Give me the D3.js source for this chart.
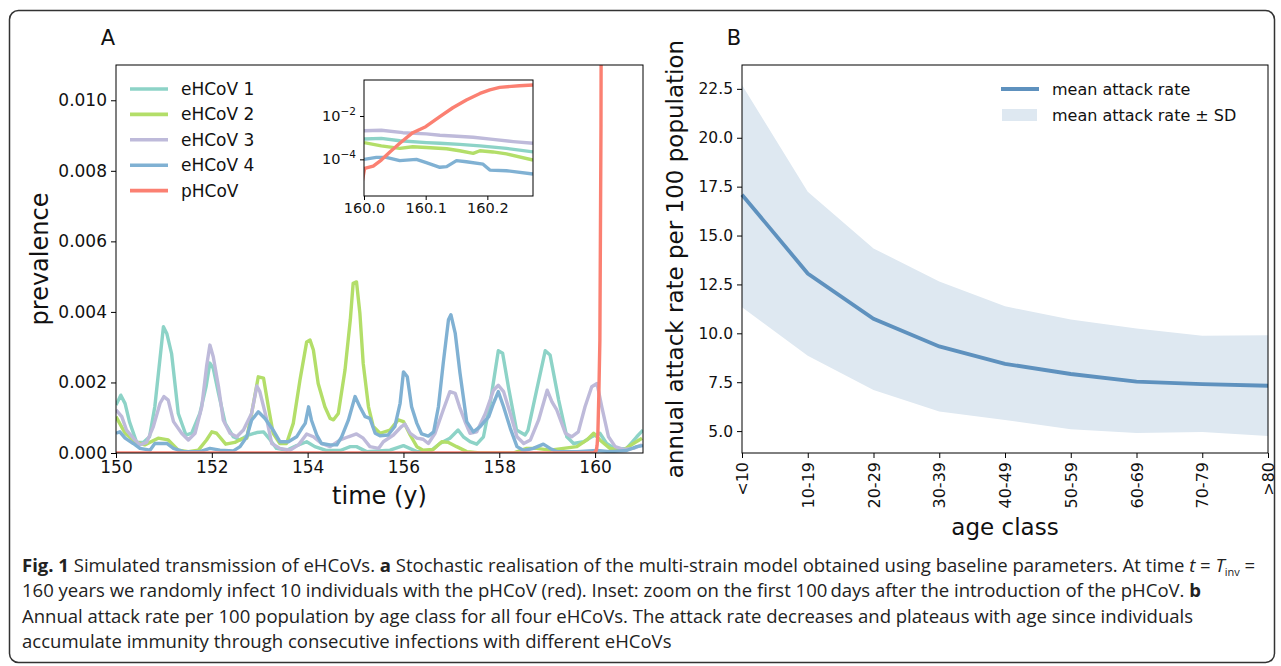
<!DOCTYPE html>
<html>
<head>
<meta charset="utf-8">
<script src="https://cdn.jsdelivr.net/npm/d3@7"></script>
<style>
  body { margin: 0; background: #fff; }
  svg text { font-family: "DejaVu Sans", sans-serif; fill: #111; }
  .cap text { font-family: "Open Sans", sans-serif; fill: #222; }
</style>
</head>
<body>
<svg id="fig" width="1281" height="666"></svg>
<script>
// ---------- panel A data : [time (y), prevalence x 1e-3] ----------
const MILLI = 1e-3
const ehcov1 = [[150.0,1.36],[150.1,1.64],[150.19,1.4],[150.28,0.89],[150.43,0.3],[150.57,0.3],[150.7,0.46],[150.81,1.31],[150.99,3.58],[151.06,3.39],[151.16,2.82],[151.3,1.12],[151.46,0.51],[151.58,0.56],[151.75,1.12],[151.88,1.88],[151.96,2.55],[152.03,2.4],[152.14,1.69],[152.28,0.84],[152.45,0.46],[152.59,0.37],[152.76,0.51],[152.94,0.58],[153.08,0.6],[153.22,0.37],[153.35,0.13],[153.56,0.08],[153.77,0.21],[153.98,0.32],[154.15,0.18],[154.4,0.07],[154.68,0.07],[154.89,0.18],[155.02,0.18],[155.23,0.04],[155.72,0.08],[156.0,0.21],[156.28,0.04],[156.55,0.04],[156.76,0.27],[156.97,0.42],[157.14,0.65],[157.25,0.46],[157.39,0.32],[157.53,0.25],[157.67,0.46],[157.81,1.41],[157.98,2.9],[158.07,2.83],[158.19,1.88],[158.36,0.65],[158.54,0.51],[158.6,0.65],[158.78,1.78],[158.96,2.9],[159.06,2.78],[159.24,1.5],[159.41,0.46],[159.55,0.27],[159.76,0.32],[159.93,0.46],[160.1,0.56],[160.24,0.27],[160.42,0.12],[160.66,0.13],[160.87,0.46],[161.0,0.65]]
const ehcov2 = [[150.0,1.03],[150.19,0.56],[150.4,0.32],[150.6,0.23],[150.88,0.42],[151.09,0.37],[151.3,0.08],[151.51,0.04],[151.72,0.08],[151.89,0.37],[152.0,0.6],[152.1,0.56],[152.29,0.25],[152.48,0.3],[152.62,0.4],[152.73,0.42],[152.83,1.12],[152.97,2.16],[153.08,2.12],[153.18,1.31],[153.28,0.56],[153.42,0.27],[153.56,0.27],[153.7,0.84],[153.84,2.07],[153.98,3.15],[154.05,3.2],[154.12,2.92],[154.22,1.97],[154.36,1.31],[154.47,0.98],[154.54,0.94],[154.64,1.12],[154.78,2.35],[154.89,3.77],[154.95,4.81],[155.02,4.85],[155.09,3.97],[155.16,2.54],[155.27,1.31],[155.37,0.75],[155.51,0.56],[155.72,0.65],[155.89,0.94],[156.0,0.89],[156.14,0.51],[156.28,0.18],[156.41,0.08],[156.62,0.1],[156.8,0.32],[156.94,0.3],[157.11,0.18],[157.32,0.04],[157.6,0.0],[158.29,0.0],[158.57,0.13],[158.78,0.13],[159.06,0.08],[159.34,0.13],[159.62,0.18],[159.83,0.37],[159.97,0.56],[160.1,0.37],[160.31,0.13],[160.59,0.08],[160.8,0.27],[160.98,0.42]]
const ehcov3 = [[150.0,1.22],[150.12,1.03],[150.22,0.65],[150.36,0.42],[150.5,0.23],[150.64,0.3],[150.78,0.75],[150.92,1.41],[151.0,1.6],[151.09,1.5],[151.2,0.89],[151.37,0.56],[151.51,0.37],[151.65,0.56],[151.79,1.31],[151.89,2.45],[151.96,3.06],[152.03,2.73],[152.14,1.88],[152.24,0.93],[152.38,0.56],[152.52,0.46],[152.66,0.65],[152.83,1.12],[152.94,1.9],[153.0,1.75],[153.15,0.93],[153.25,0.27],[153.42,0.13],[153.63,0.08],[153.81,0.23],[153.98,0.54],[154.12,0.46],[154.29,0.27],[154.47,0.18],[154.68,0.37],[154.85,0.46],[155.02,0.54],[155.16,0.42],[155.3,0.18],[155.48,0.13],[155.58,0.32],[155.79,0.51],[155.96,0.75],[156.03,0.82],[156.14,0.56],[156.28,0.42],[156.41,0.39],[156.52,0.27],[156.66,0.56],[156.83,1.22],[156.97,1.74],[157.08,1.69],[157.17,1.31],[157.3,0.84],[157.39,0.56],[157.53,0.6],[157.71,1.12],[157.88,1.78],[157.98,1.92],[158.09,1.74],[158.23,1.12],[158.37,0.46],[158.51,0.27],[158.65,0.37],[158.82,0.93],[159.0,1.78],[159.1,1.45],[159.2,1.22],[159.38,0.56],[159.51,0.46],[159.65,0.6],[159.79,1.31],[159.93,1.88],[160.04,1.97],[160.14,1.31],[160.28,0.46],[160.42,0.18],[160.59,0.1],[160.8,0.13],[160.98,0.23]]
const ehcov4 = [[150.0,0.56],[150.08,0.6],[150.19,0.42],[150.36,0.27],[150.5,0.13],[150.71,0.08],[150.81,0.27],[151.06,0.27],[151.2,0.13],[151.41,0.04],[151.75,0.04],[151.96,0.13],[152.17,0.08],[152.45,0.06],[152.59,0.18],[152.73,0.46],[152.83,0.93],[152.97,1.17],[153.11,0.98],[153.28,0.65],[153.42,0.32],[153.6,0.32],[153.77,0.46],[153.88,0.7],[153.95,0.84],[154.02,1.31],[154.08,0.93],[154.19,0.51],[154.29,0.27],[154.47,0.23],[154.61,0.23],[154.71,0.46],[154.85,0.93],[154.99,1.6],[155.09,1.31],[155.2,1.03],[155.3,0.98],[155.41,0.56],[155.51,0.49],[155.68,0.51],[155.82,0.75],[155.93,1.41],[156.0,2.3],[156.08,2.16],[156.17,1.31],[156.28,0.84],[156.38,0.54],[156.52,0.48],[156.63,0.6],[156.73,1.31],[156.83,2.54],[156.94,3.78],[156.99,3.92],[157.08,3.4],[157.18,2.27],[157.32,0.89],[157.46,0.6],[157.6,0.75],[157.78,1.03],[157.88,1.41],[157.98,1.74],[158.09,1.31],[158.23,0.7],[158.37,0.18],[158.51,0.07],[158.71,0.13],[158.92,0.25],[159.06,0.13],[159.2,0.04],[159.62,0.04],[160.04,0.07],[160.31,0.04],[160.66,0.07],[160.87,0.18],[161.0,0.21]]
// pHCoV in plain prevalence (used in main panel and inset)
const phcov = [[150,0],[159.99,0],[160.001,3.8e-5],[160.015,4.9e-5],[160.028,9.3e-5],[160.042,2.2e-4],[160.058,5.5e-4],[160.079,1.7e-3],[160.1,3.2e-3],[160.123,9.3e-3],[160.144,0.024],[160.166,0.055],[160.188,0.11],[160.204,0.16],[160.22,0.21],[160.252,0.25],[160.274,0.27]]

// inset: first 100 days after introduction (plain prevalence)
const inset1 = [[160.0,8.7e-4],[160.028,9.3e-4],[160.058,7.2e-4],[160.101,5.9e-4],[160.123,5.5e-4],[160.155,4.9e-4],[160.188,4.2e-4],[160.231,3.2e-4],[160.274,2.2e-4]]
const inset2 = [[160.0,5.9e-4],[160.028,4.2e-4],[160.058,3.2e-4],[160.079,3.8e-4],[160.101,3.5e-4],[160.134,3.1e-4],[160.155,2.5e-4],[160.177,1.9e-4],[160.188,2.5e-4],[160.209,2.2e-4],[160.231,1.8e-4],[160.274,9.3e-5]]
const inset3 = [[160.0,2.1e-3],[160.028,2.2e-3],[160.063,1.7e-3],[160.101,1.5e-3],[160.123,1.3e-3],[160.144,1.2e-3],[160.177,1.05e-3],[160.209,8.3e-4],[160.242,6.6e-4],[160.274,5.5e-4]]
const inset4 = [[160.0,1.0e-4],[160.02,1.23e-4],[160.036,1.23e-4],[160.058,8.7e-5],[160.085,1.0e-4],[160.101,7.1e-5],[160.123,4.3e-5],[160.134,4.6e-5],[160.15,8.7e-5],[160.166,7.8e-5],[160.193,6.0e-5],[160.204,3.2e-5],[160.231,3.0e-5],[160.274,2.1e-5]]

const seriesNames = ["eHCoV 1", "eHCoV 2", "eHCoV 3", "eHCoV 4", "pHCoV"]
const seriesColors = ["#8dd3c7", "#b3de69", "#bebada", "#80b1d3", "#fb8072"]
const timeTicks = [150, 152, 154, 156, 158, 160]
const prevTicks = [0, 0.002, 0.004, 0.006, 0.008, 0.010]
const insetTimeTicks = [160.0, 160.1, 160.2]
const insetLogTicks = [1e-2, 1e-4]

// ---------- panel B data ----------
const ageClasses = ["<10", "10-19", "20-29", "30-39", "40-49", "50-59", "60-69", "70-79", ">80"]
const meanRate = [17.09, 13.06, 10.74, 9.33, 8.44, 7.92, 7.53, 7.40, 7.32]
const upperRate = [22.70, 17.24, 14.34, 12.65, 11.38, 10.71, 10.25, 9.87, 9.90]
const lowerRate = [11.33, 8.85, 7.10, 6.00, 5.57, 5.10, 4.90, 4.95, 4.75]
const rateTicks = [5, 7.5, 10, 12.5, 15, 17.5, 20, 22.5]

const svg = d3.select('#fig')

// outer figure border
svg.append('rect')
  .attr('x', 9.5).attr('y', 10.5)
  .attr('width', 1265).attr('height', 652)
  .attr('rx', 9)
  .attr('fill', 'none').attr('stroke', '#333').attr('stroke-width', 1.5)

function styleAxis(g, size) {
  g.select('.domain').remove()
  g.selectAll('.tick line').attr('stroke', '#000').attr('stroke-width', 1)
  g.selectAll('.tick text').attr('font-size', size).attr('fill', '#111')
}

// ======================= PANEL A =======================
const padA = { left: 116, right: 643, top: 65, bottom: 453 }
const xA = d3.scaleLinear().domain([150, 161]).range([padA.left, padA.right])
const yA = d3.scaleLinear().domain([0, 0.011]).range([padA.bottom, padA.top])

const gA = svg.append('g')
gA.append('defs').append('clipPath').attr('id', 'clipA')
  .append('rect')
  .attr('x', padA.left).attr('y', padA.top)
  .attr('width', padA.right - padA.left).attr('height', padA.bottom - padA.top)

const lineA = d3.line().x(d => xA(d[0])).y(d => yA(d[1] * MILLI))
const lineP = d3.line().x(d => xA(d[0])).y(d => yA(d[1]))

const plotA = gA.append('g').attr('clip-path', 'url(#clipA)')
;[ehcov1, ehcov2, ehcov3, ehcov4].forEach((s, i) => {
  plotA.append('path').datum(s)
    .attr('d', lineA)
    .attr('fill', 'none')
    .attr('stroke', seriesColors[i])
    .attr('stroke-width', 3.4)
    .attr('stroke-linejoin', 'round')
})
plotA.append('path').datum(phcov)
  .attr('d', lineP)
  .attr('fill', 'none')
  .attr('stroke', seriesColors[4])
  .attr('stroke-width', 3.4)
  .attr('stroke-linejoin', 'round')

gA.append('g')
  .attr('transform', `translate(0, ${padA.bottom})`)
  .call(d3.axisBottom(xA).tickValues(timeTicks).tickFormat(d3.format('d')).tickSize(5).tickPadding(3))
  .call(g => styleAxis(g, 17))
gA.append('g')
  .attr('transform', `translate(${padA.left}, 0)`)
  .call(d3.axisLeft(yA).tickValues(prevTicks).tickFormat(d3.format('.3f')).tickSize(5).tickPadding(4))
  .call(g => styleAxis(g, 17))

gA.append('rect')
  .attr('x', padA.left).attr('y', padA.top)
  .attr('width', padA.right - padA.left).attr('height', padA.bottom - padA.top)
  .attr('fill', 'none').attr('stroke', '#000').attr('stroke-width', 1)

gA.append('text').attr('x', 108).attr('y', 38)
  .attr('text-anchor', 'middle').attr('dominant-baseline', 'central')
  .attr('font-size', 21).text('A')

gA.append('text')
  .attr('x', (padA.left + padA.right) / 2).attr('y', 504)
  .attr('text-anchor', 'middle').attr('font-size', 24).text('time (y)')
gA.append('text')
  .attr('transform', `translate(48, ${(padA.top + padA.bottom) / 2}) rotate(-90)`)
  .attr('text-anchor', 'middle').attr('font-size', 24).text('prevalence')

// legend A
const legA = gA.append('g').attr('transform', 'translate(130, 89)')
seriesNames.forEach((n, i) => {
  const row = legA.append('g').attr('transform', `translate(0, ${i * 25.4})`)
  row.append('line').attr('x1', 0).attr('x2', 38)
    .attr('stroke', seriesColors[i]).attr('stroke-width', 3.6)
  row.append('text').attr('x', 51).attr('dominant-baseline', 'central')
    .attr('font-size', 17).text(n)
})

// inset
const padI = { left: 364, right: 533, top: 80, bottom: 196 }
const xI = d3.scaleLinear().domain([160, 160.274]).range([padI.left, padI.right])
const yI = d3.scaleLog().domain([Math.pow(10, -5.69), Math.pow(10, -0.34)]).range([padI.bottom, padI.top])
const lineI = d3.line().x(d => xI(d[0])).y(d => yI(Math.max(d[1], yI.domain()[0] / 3)))

const gI = svg.append('g')
gI.append('rect')
  .attr('x', padI.left).attr('y', padI.top)
  .attr('width', padI.right - padI.left).attr('height', padI.bottom - padI.top)
  .attr('fill', '#fff')
gI.append('defs').append('clipPath').attr('id', 'clipI')
  .append('rect')
  .attr('x', padI.left).attr('y', padI.top)
  .attr('width', padI.right - padI.left).attr('height', padI.bottom - padI.top)
const plotI = gI.append('g').attr('clip-path', 'url(#clipI)')
;[inset1, inset2, inset3, inset4, phcov].forEach((s, i) => {
  plotI.append('path').datum(s)
    .attr('d', lineI)
    .attr('fill', 'none')
    .attr('stroke', seriesColors[i])
    .attr('stroke-width', 3.4)
    .attr('stroke-linejoin', 'round')
})
gI.append('g')
  .attr('transform', `translate(0, ${padI.bottom})`)
  .call(d3.axisBottom(xI).tickValues(insetTimeTicks).tickFormat(d3.format('.1f')).tickSize(4).tickPadding(3))
  .call(g => styleAxis(g, 14.5))
const yIax = gI.append('g')
  .attr('transform', `translate(${padI.left}, 0)`)
  .call(d3.axisLeft(yI).tickValues(insetLogTicks).tickFormat('').tickSize(4).tickPadding(4))
  .call(g => styleAxis(g, 14.5))
yIax.selectAll('.tick text').each(function(d) {
  const t = d3.select(this)
  t.append('tspan').text('10')
  t.append('tspan').attr('dy', -6).attr('font-size', 10.5).text('\u2212' + Math.round(-Math.log10(d)))
})
gI.append('rect')
  .attr('x', padI.left).attr('y', padI.top)
  .attr('width', padI.right - padI.left).attr('height', padI.bottom - padI.top)
  .attr('fill', 'none').attr('stroke', '#000').attr('stroke-width', 1)

// ======================= PANEL B =======================
const padB = { left: 742, right: 1268, top: 65, bottom: 453 }
const xB = d3.scalePoint().domain(ageClasses).range([padB.left, padB.right])
const yB = d3.scaleLinear().domain([3.88, 23.72]).range([padB.bottom, padB.top])
const gB = svg.append('g')

const bandData = ageClasses.map((a, i) => ({ a, lo: lowerRate[i], hi: upperRate[i], m: meanRate[i] }))
gB.append('path').datum(bandData)
  .attr('d', d3.area().x(d => xB(d.a)).y0(d => yB(d.lo)).y1(d => yB(d.hi)))
  .attr('fill', '#dee8f1')
gB.append('path').datum(bandData)
  .attr('d', d3.line().x(d => xB(d.a)).y(d => yB(d.m)))
  .attr('fill', 'none').attr('stroke', '#5e91be').attr('stroke-width', 3.8)

gB.append('g')
  .attr('transform', `translate(${padB.left}, 0)`)
  .call(d3.axisLeft(yB).tickValues(rateTicks).tickFormat(d3.format('.1f')).tickSize(5).tickPadding(4))
  .call(g => styleAxis(g, 15.5))
const xBax = gB.append('g')
  .attr('transform', `translate(0, ${padB.bottom})`)
  .call(d3.axisBottom(xB).tickSize(5).tickPadding(4))
  .call(g => styleAxis(g, 16))
xBax.selectAll('.tick text')
  .attr('transform', 'rotate(-90)')
  .attr('y', 0).attr('x', -9)
  .attr('dy', null)
  .attr('text-anchor', 'end')
  .attr('dominant-baseline', 'central')

gB.append('rect')
  .attr('x', padB.left).attr('y', padB.top)
  .attr('width', padB.right - padB.left).attr('height', padB.bottom - padB.top)
  .attr('fill', 'none').attr('stroke', '#000').attr('stroke-width', 1)

gB.append('text').attr('x', 734).attr('y', 38)
  .attr('text-anchor', 'middle').attr('dominant-baseline', 'central')
  .attr('font-size', 21).text('B')
gB.append('text')
  .attr('x', (padB.left + padB.right) / 2).attr('y', 535)
  .attr('text-anchor', 'middle').attr('font-size', 23).text('age class')
gB.append('text')
  .attr('transform', `translate(683, ${(padB.top + padB.bottom) / 2}) rotate(-90)`)
  .attr('text-anchor', 'middle').attr('font-size', 23).text('annual attack rate per 100 population')

const legB = gB.append('g').attr('transform', 'translate(1001, 89)')
legB.append('line').attr('x1', 0).attr('x2', 38)
  .attr('stroke', '#5e91be').attr('stroke-width', 3.8)
legB.append('text').attr('x', 51).attr('dominant-baseline', 'central')
  .attr('font-size', 16).text('mean attack rate')
legB.append('rect').attr('x', 1).attr('y', 20).attr('width', 35).attr('height', 12)
  .attr('fill', '#dee8f1')
legB.append('text').attr('x', 51).attr('y', 26).attr('dominant-baseline', 'central')
  .attr('font-size', 16).text('mean attack rate \u00b1 SD')

// ======================= CAPTION =======================
const captionLines = [
  [['Fig. 1', 'b'], [' Simulated transmission of eHCoVs. '], ['a', 'b'], [' Stochastic realisation of the multi-strain model obtained using baseline parameters. At time '], ['t', 'i'], [' = '], ['T', 'i'], ['inv', 's'], [' =']],
  [['160 years we randomly infect 10 individuals with the pHCoV (red). Inset: zoom on the first 100\u2009days after the introduction of the pHCoV. '], ['b', 'b']],
  [['Annual attack rate per 100 population by age class for all four eHCoVs. The attack rate decreases and plateaus with age since individuals']],
  [['accumulate immunity through consecutive infections with different eHCoVs']]
]
const capG = svg.append('g').attr('class', 'cap')
const capTexts = captionLines.map((parts, i) => {
  const t = capG.append('text').attr('x', 22).attr('y', 572 + i * 25.4).attr('font-size', 16.5)
  parts.forEach(([s, k]) => {
    const sp = t.append('tspan').text(s)
    if (k === 'b') sp.attr('font-weight', 700)
    if (k === 'i') sp.attr('font-style', 'italic')
    if (k === 's') sp.attr('font-size', 11).attr('dy', 4)
    if (k === undefined && i === 0 && s === ' =') sp.attr('dy', -4)
  })
  return t
})
// fit caption font size so that the third line spans the same width as in the figure
const w3 = capTexts[2].node().getComputedTextLength()
const fs = 16.5 * 1172 / w3
capTexts.forEach(t => t.attr('font-size', fs))
</script>
</body>
</html>
